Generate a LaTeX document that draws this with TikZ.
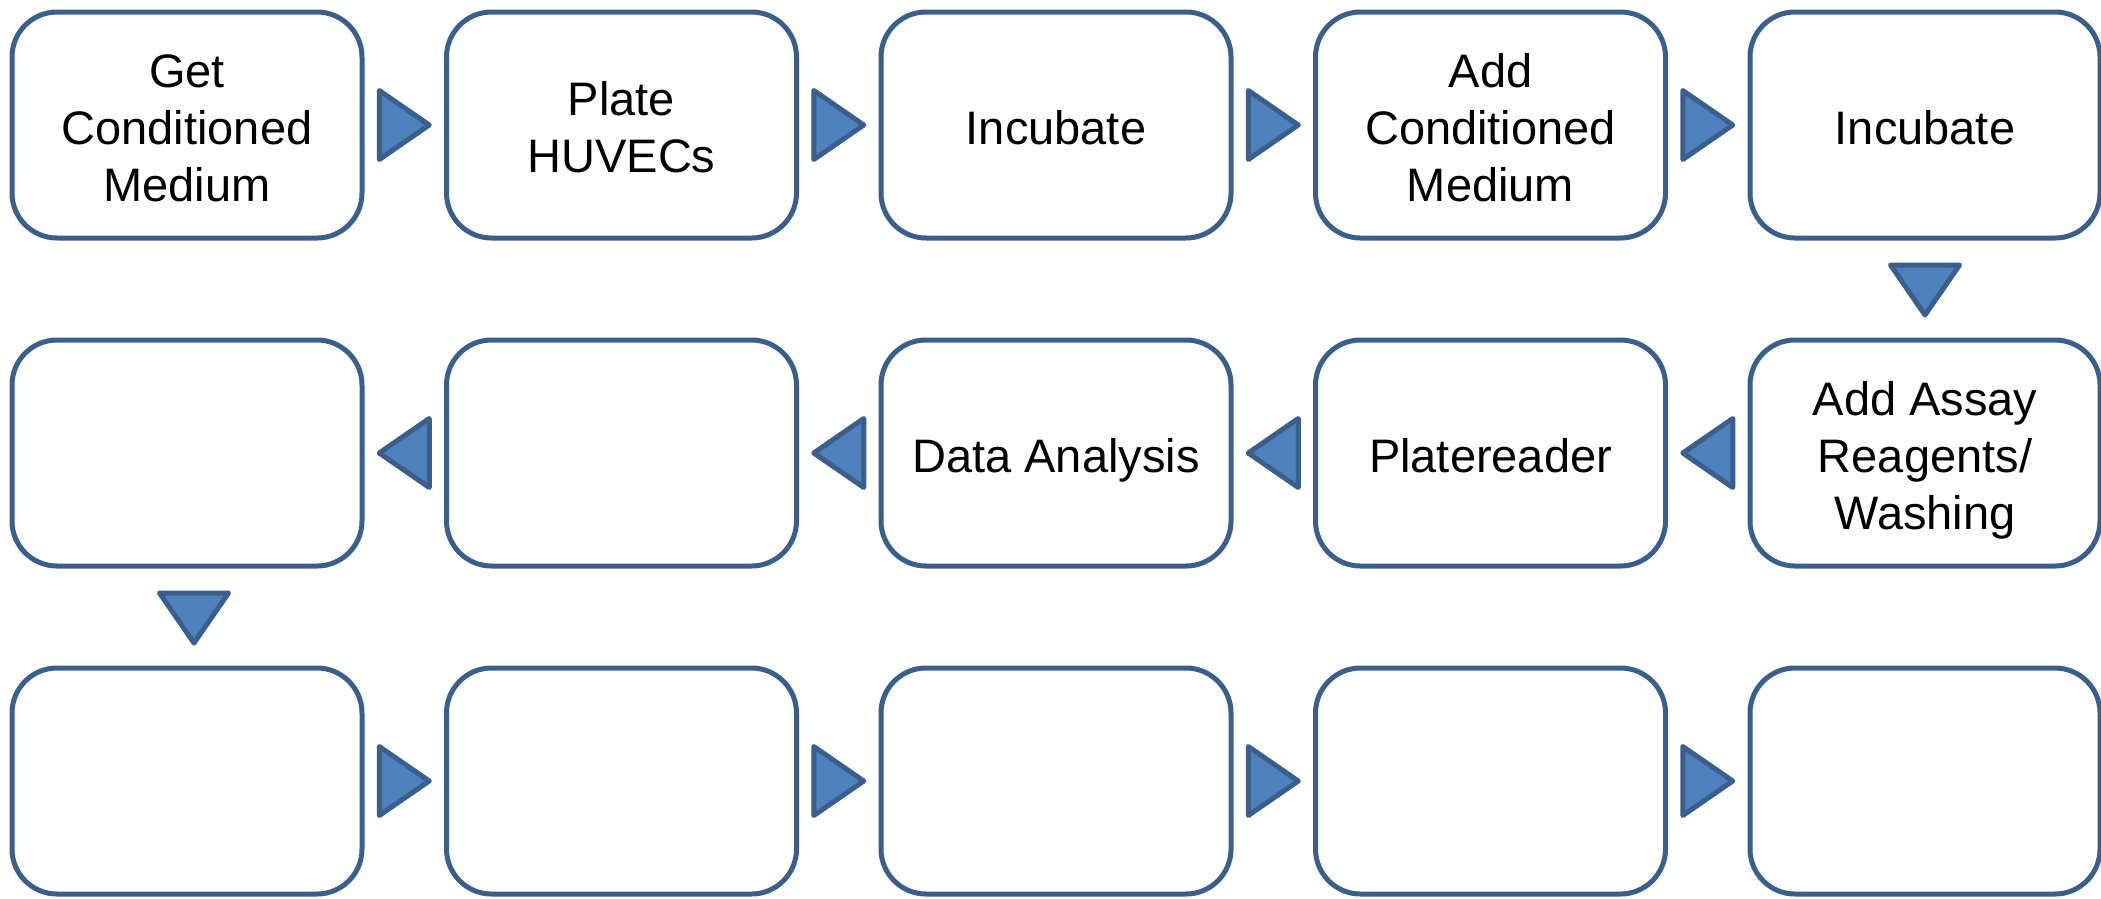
\documentclass[tikz,border=0pt]{standalone}
\usepackage{fontspec}
\setmainfont{Liberation Sans}
\usetikzlibrary{calc}
\definecolor{edgeblue}{HTML}{3A5F8C}
\definecolor{fillblue}{HTML}{4F81BD}
\newcommand\lbl[1]{\raisebox{-8pt}[\height][\depth]{\begin{tabular}{@{}c@{}}#1\end{tabular}}}
\newcommand\rtri[2]{\draw[tri] ($(#1.east)!0.5!(#2.west)$) ++(-25,-34.5) -- ++(50,34.5) -- ++(-50,34.5) -- cycle;}
\newcommand\ltri[2]{\draw[tri] ($(#1.west)!0.5!(#2.east)$) ++(25,-34.5) -- ++(-50,34.5) -- ++(50,34.5) -- cycle;}
\newcommand\dtri[3]{\draw[tri] ($(#1.south)!0.5!(#2.north)$) ++(#3-34.5,-24) -- ++(69,0) -- ++(-34.5,50) -- cycle;}
\begin{document}
\begin{tikzpicture}[x=1pt,y=-1pt,
  box/.style={draw=edgeblue, line width=5pt, rounded corners=45pt, fill=white,
    minimum width=350pt, minimum height=226pt, inner sep=0pt,
    font=\fontsize{47}{57}\selectfont},
  tri/.style={draw=edgeblue, fill=fillblue, line width=5pt, line join=round}]
\useasboundingbox (0,0) rectangle (2101,898);
\fill[white] (0,0) rectangle (2101,898);
% row 1
\node[box] (a1) at (187,125) {\lbl{Get\\Conditioned\\Medium}};
\node[box] (a2) at (621.5,125) {\lbl{Plate\\HUVECs}};
\node[box] (a3) at (1056,125) {\lbl{Incubate}};
\node[box] (a4) at (1490.5,125) {\lbl{Add\\Conditioned\\Medium}};
\node[box] (a5) at (1925,125) {\lbl{Incubate}};
% row 2
\node[box] (b1) at (187,453) {};
\node[box] (b2) at (621.5,453) {};
\node[box] (b3) at (1056,453) {\lbl{Data Analysis}};
\node[box] (b4) at (1490.5,453) {\lbl{Platereader}};
\node[box] (b5) at (1925,453) {\lbl{Add Assay\\Reagents/\\Washing}};
% row 3
\node[box] (c1) at (187,781) {};
\node[box] (c2) at (621.5,781) {};
\node[box] (c3) at (1056,781) {};
\node[box] (c4) at (1490.5,781) {};
\node[box] (c5) at (1925,781) {};
% connectors
\rtri{a1}{a2}
\rtri{a2}{a3}
\rtri{a3}{a4}
\rtri{a4}{a5}
\dtri{a5}{b5}{0}
\ltri{b5}{b4}
\ltri{b4}{b3}
\ltri{b3}{b2}
\ltri{b2}{b1}
\dtri{b1}{c1}{7}
\rtri{c1}{c2}
\rtri{c2}{c3}
\rtri{c3}{c4}
\rtri{c4}{c5}
\end{tikzpicture}
\end{document}
